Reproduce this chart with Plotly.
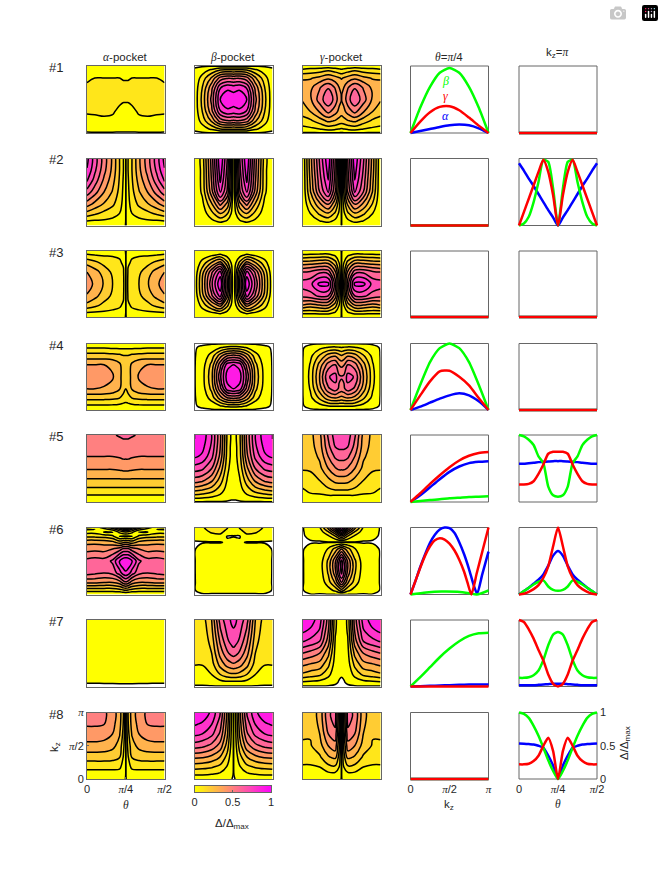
import math
import plotly.graph_objects as go

W, H = 664, 875

# panel frames in pixels
col_x = [(87, 164.5), (194.5, 272.5), (302.5, 380.5), (410.5, 488.5), (519, 597)]
row_y = [(66, 133), (158.5, 225.5), (251, 317), (343.5, 410), (435, 502), (527.5, 594.5), (620, 686.5), (712.5, 779)]

# contour grids: percent of gap, one line per theta position, values bottom to top in kz
U = [0, .1, .22, .33, .42, .47, .5]
V = [0, .06, .18, .32, .5, .68, .82, .94, 1]
V6 = [0, .06, .18, .32, .5, .68, .78, .87, .93, .97, 1]

a1 = [[-1,3,7,11,12,11,9,3,1],[-1,4,8,11,13,12,10,4,1],[-1,4,8,12,13,12,10,4,1],[-1,4,8,11,13,13,10,4,1],
      [-1,3,6,8,12,13,10,4,1],[-1,3,5,7,11,13,9,3,1],[-1,3,5,7,11,13,9,3,1]]
b1 = [[-1,1,2,3,3,3,2,1,-1],[-1,5,14,20,23,20,14,5,-1],[-1,12,32,47,53,47,32,12,-1],[-1,20,54,79,90,79,54,20,-1],
      [-1,22,59,87,99,87,59,22,-1],[-1,22,59,86,98,86,59,22,-1],[-1,21,58,85,97,85,58,21,-1]]
c1 = [[-1,7,15,25,31,34,29,12,3],[-1,8,18,30,38,37,29,14,3],[-1,10,25,41,55,49,33,15,3],[-1,14,32,53,68,59,38,18,4],
      [-1,12,29,44,56,49,34,15,3],[-1,10,26,37,44,40,31,13,3],[-1,9,25,34,40,37,29,12,3]]

a2 = [[.5,9,26,45,66,82,89,92,93],[.5,8,22,37,54,66,72,75,75],[.5,8,17,29,40,48,53,55,55],[.5,7,14,22,29,34,37,38,38],
      [.5,6,10,14,17,19,20,20,20],[.5,3,5,7,8,9,10,10,10],[-.1]*9]
b2 = [[.5]*9,[1,2,4,7,12,13,13,14,14],[1,7,17,29,46,51,53,54,55],[1,12,30,53,83,92,96,99,100],
      [1,8,21,37,58,64,67,69,70],[1,4,10,17,27,30,32,33,33],[.5]*9]
c2 = [[.5]*9,[.5,4,10,19,29,32,34,35,35],[1,9,22,38,60,66,69,71,72],[1,12,29,52,81,90,94,97,98],
      [1,7,18,32,50,55,58,59,60],[1,3,8,13,21,23,24,25,25],[-.1]*9]

a3 = [[.5,9,27,39,45,40,27,12,1],[.5,8,23,33,38,34,23,10,1],[.5,8,17,25,29,26,17,9,1],[.5,8,13,18,20,18,14,9,1],
      [.5,8,11,13,14,13,11,9,1],[.5,6,9,11,12,11,9,7,.5],[-.1]*9]
b3 = [[.5,1,1,2,3,2,1,1,.5],[.5,4,14,26,30,26,14,4,.5],[.5,8,31,58,68,58,31,8,.5],[.5,12,45,84,99,84,45,12,.5],
      [.5,6,23,43,50,43,23,6,.5],[.5,3,10,17,20,17,10,3,.5],[.5]*9]
c3 = [[.5,12,40,63,75,60,35,11,1],[.5,12,36,66,77,62,36,12,1],[.5,13,40,72,93,68,38,13,1],[.5,13,40,70,93,66,38,13,1],
      [.5,8,25,45,55,42,24,8,.5],[.5,4,10,18,22,17,10,4,.5],[-.1]*9]

a4 = [[.5,8,23,40,47,40,24,9,1],[.5,8,23,40,46,40,24,9,1],[.5,8,23,39,44,40,24,9,1],[.5,8,22,37,41,38,23,8,1],
      [.5,7,20,31,33,32,22,8,1],[.5,6,17,23,25,25,20,8,1],[.5,6,15,20,24,25,20,8,1]]
b4 = [[-.5]*9,[-1,1,3,5,6,5,3,1,-1],[-1,4,14,23,27,23,14,4,-1],[-1,9,35,57,68,57,35,9,-1],
      [-1,13,49,86,95,86,49,13,-1],[-1,14,51,89,99,89,51,14,-1],[-1,14,52,90,100,90,52,14,-1]]
c4 = [[-.5]*9,[-1,2,7,11,13,11,7,2,-1],[-1,6,22,35,41,34,21,7,-1],[-1,10,36,58,69,55,34,11,-1],
      [-1,11,40,66,74,60,38,12,-1],[-1,11,38,58,62,49,33,11,-1],[-1,11,36,56,61,47,30,10,-1]]

a5 = [[.5,6,17,28,41,50,55,57,57],[.5,6,17,28,41,50,55,57,57],[.5,6,17,28,41,50,55,57,58],[.5,6,17,28,41,50,55,58,59],
      [.5,6,17,28,42,51,56,59,61],[.5,6,17,28,43,52,57,60,62],[.5,6,17,28,43,52,57,60,62]]
b5 = [[-1,11,33,55,75,92,98,100,100],[-1,10,30,52,72,88,93,96,97],[-1,8,25,42,60,73,78,80,80],[-1,6,15,25,37,47,50,52,52],
      [-1,3,6,9,13,16,17,18,18],[-1,1,3,4,6,8,8,9,9],[-1,1,3,4,6,7,8,8,8]]
c5 = [[.5,5,9,14,21,24,25,26,26],[.5,7,12,17,21,24,26,27,27],[.5,6,14,20,27,32,35,36,37],[.5,6,18,27,40,50,57,60,62],
      [.5,5,20,33,49,62,70,74,75],[.5,5,20,34,52,64,72,75,76],[.5,5,20,34,52,64,72,75,76]]

a6 = [[.5,13,42,64,63,46,37,17,7,-.5,3],[.5,13,42,62,65,47,37,17,7,-.5,5],[.5,13,40,60,64,46,36,16,-.5,6,14],
      [.5,13,40,63,72,50,33,12,-.5,12,28],[.5,15,45,75,92,55,25,-.5,12,28,45],[.5,18,55,85,99,62,28,-.5,17,38,60],
      [.5,19,58,88,100,62,30,-.5,18,40,63]]
b6 = [[-.5,-.5,-.5,-.5,-.5,-.5,-.5,2,4,5,6],[-1,3,4,5,5,3,-.5,3,6,8,9],[-1,3,4,5,6,4,-.5,6,11,13,14],
      [-1,3,4,5,6,4,-.5,6,13,15,16],[-1,3,4,5,6,4,1,-.5,5,9,11],[-1,3,4,5,6,5,2,-.5,3,4,5],[-1,3,4,5,6,5,3,-.5,3,4,4]]
c6 = [[-.5]*11,[-.5,3,3,3,3,2,-.5,1,2,3,3],[-.5,2,3,4,4,3,-.5,2,4,6,9],[-.5,6,15,21,22,11,-.5,8,18,28,34],
      [-.5,12,32,46,48,24,-.5,20,38,55,66],[-.5,20,50,70,70,33,-.5,32,60,78,90],[-.5,25,60,82,84,40,-.5,38,70,88,100]]

a7 = [[-1,.2,2,3,3,4,4,4,4],[-1,.2,2,3,3,4,4,4,4],[-1,.3,2,3,3,4,4,4,4],[-1,.3,2,3,3,4,4,4,5],
      [-1,.4,2,3,3,4,4,5,5],[-1,.5,2,3,3,4,4,5,5],[-1,.5,2,3,3,4,4,5,5]]
b7 = [[-1,2,5,10,11,12,12,13,13],[-1,2,6,10,11,12,13,14,15],[-1,4,10,15,20,24,27,29,30],[-1,6,20,33,44,52,58,62,65],
      [-1,7,26,43,58,68,72,75,76],[-1,7,28,46,63,73,78,80,81],[-1,7,28,47,65,75,79,81,82]]
c7 = [[-1,8,28,41,60,81,91,98,100],[-1,7,25,38,56,77,87,93,95],[-1,6,22,35,50,70,78,83,85],[-1,4,13,22,33,45,50,54,55],
      [-1,1,3,5,7,9,11,12,12],[-1,-.5,1,2,3,4,5,5,5],[-1,-1,.5,1,2,2,2,2,2]]

a8 = [[.5,4,13,24,37,46,51,53,53],[.5,4,13,24,37,46,51,53,53],[.5,4,13,24,36,45,50,52,52],[.5,4,13,23,33,40,43,45,45],
      [.5,4,12,20,26,31,34,35,35],[.5,3,6,9,13,17,19,20,20],[-.1]*9]
b8 = [[.5,10,24,41,65,83,91,98,100],[.5,10,23,40,63,80,88,95,97],[.5,9,21,36,57,73,80,86,88],[.5,7,17,29,46,58,64,69,70],
      [.5,4,9,16,25,32,35,37,38],[.5,2,3,5,8,10,11,12,12],[-1,-.5,-.1,-.1,-.1,-.1,-.1,-.1,-.1]]
c8 = [[.5,4,9,13,19,21,22,22,22],[.5,4,9,13,19,21,23,24,24],[.5,4,10,18,26,30,32,33,33],[.5,6,17,28,40,50,55,58,58],
      [.5,6,18,32,46,56,62,64,64],[.5,4,10,16,22,27,30,32,32],[-.1]*9]

alpha_grids = [a1, a2, a3, a4, a5, a6, a7, a8]
beta_grids = [b1, b2, b3, b4, b5, b6, b7, b8]
gamma_grids = [c1, c2, c3, c4, c5, c6, c7, c8]

# line panels, theta = pi/4 against kz (fraction of pi)
KZ = [0, .125, .25, .375, .5, .625, .75, .875, 1]
zero_kz = [0] * 9
blue1 = [0, .03, .06, .09, .115, .125, .115, .07, 0]
green1 = [0, .38, .69, .9, .97, .9, .69, .38, 0]
red1 = [0, .17, .31, .39, .4, .34, .23, .11, 0]
blue4 = [0, .05, .11, .17, .22, .25, .22, .13, 0]
green4 = [0, .38, .72, .93, 1, .93, .72, .38, 0]
red4 = [0, .22, .43, .58, .59, .5, .37, .18, 0]
blue5 = [0, .1, .22, .34, .45, .53, .58, .6, .61]
green5 = [0, .015, .03, .04, .055, .065, .075, .08, .085]
red5 = [0, .13, .27, .4, .52, .62, .69, .73, .745]
blue7 = [0, .005, .01, .015, .02, .025, .03, .03, .03]
green7 = [0, .14, .29, .44, .57, .68, .76, .8, .81]
red7 = zero_kz
blue6_x = [0, .0625, .125, .1875, .25, .3125, .375, .4375, .5, .5625, .625, .6875, .75, .81, .855, .92, 1]
blue6 = [0, .2, .41, .6, .77, .89, .97, 1, .99, .92, .78, .6, .38, .14, .01, .3, .64]
red6_x = [0, .0625, .125, .1875, .25, .3125, .375, .4375, .5, .5625, .625, .6875, .73, .78, .85, .925, 1]
red6 = [0, .2, .4, .58, .72, .81, .84, .82, .76, .66, .52, .34, .18, 0, .32, .66, 1]
green6_x = [0, .2, .4, .6, .75, .85, 1]
green6 = [0, .03, .045, .04, .02, 0, .06]

# line panels, kz = pi against theta, half of the range up to pi/4 (the curves mirror there)
TH = [0, .0625, .125, .1875, .25, .3125, .375, .4375, .5]
zero_th = [0] * 9
tblue2 = [.93, .82, .7, .59, .47, .35, .23, .12, 0]
tgreen2 = [0, .03, .13, .35, .65, .98, .95, .55, 0]
tred2 = [0, .2, .4, .6, .8, .98, .8, .45, 0]
tblue5 = [.57, .57, .58, .585, .595, .6, .605, .61, .61]
tgreen5 = [1, .98, .93, .85, .68, .58, .23, .1, .08]
tred5 = [.26, .26, .27, .31, .42, .56, .72, .75, .75]
tblue6 = [0, .05, .1, .16, .22, .3, .43, .58, .65]
tgreen6 = [0, .05, .1, .15, .19, .21, .12, .07, .055]
tred6 = [0, .01, .04, .08, .14, .25, .42, .72, 1]
tblue7 = [.02, .02, .02, .02, .025, .03, .035, .04, .04]
tgreen7 = [.13, .13, .14, .17, .24, .4, .62, .78, .82]
tred7 = [1, .97, .86, .72, .55, .39, .18, .04, 0]
tblue8 = [.535, .53, .525, .52, .5, .47, .35, .2, 0]
tgreen8 = [1, .98, .92, .8, .65, .47, .28, .12, 0]
tred8 = [.22, .22, .23, .27, .35, .5, .62, .42, 0]

kz_lines = [(KZ, blue1, KZ, green1, KZ, red1), (KZ, zero_kz, KZ, zero_kz, KZ, zero_kz), (KZ, zero_kz, KZ, zero_kz, KZ, zero_kz),
            (KZ, blue4, KZ, green4, KZ, red4), (KZ, blue5, KZ, green5, KZ, red5),
            (blue6_x, blue6, green6_x, green6, red6_x, red6), (KZ, blue7, KZ, green7, KZ, red7),
            (KZ, zero_kz, KZ, zero_kz, KZ, zero_kz)]
theta_lines = [(zero_th, zero_th, zero_th), (tblue2, tgreen2, tred2), (zero_th, zero_th, zero_th), (zero_th, zero_th, zero_th),
               (tblue5, tgreen5, tred5), (tblue6, tgreen6, tred6), (tblue7, tgreen7, tred7), (tblue8, tgreen8, tred8)]

bar_values = [0, .1, .2, .3, .4, .5, .6, .7, .8, .9, 1]
row_names = ['#1', '#2', '#3', '#4', '#5', '#6', '#7', '#8']

TEXT = '#262626'
FRAME = '#666666'
FONT = 'Liberation Sans'
# band below 0 white, then yellow to magenta, band colour taken from its lower level
band_scale = [[0, '#ffffff'], [.045, '#ffffff'], [1 / 11, '#ffff00'], [1, '#ff00ff']]
pi = math.pi


def greek(ch):
    return f'<span style="font-family:Liberation Serif"><i>{ch}</i></span>'


PI = greek('π')
theta_ticks = dict(tickvals=[0, pi / 4, pi / 2], ticktext=['0', PI + '/4', PI + '/2'])
kz_ticks = dict(tickvals=[0, pi / 2, pi], ticktext=['0', PI + '/2', PI])

fig = go.Figure()
layout = {}
shapes = []
n = 0


def px(x):
    return x / W


def py(y):
    return 1 - y / H


def new_axes(x0, x1, y0, y1, xrange, yrange, xextra=None, yextra=None, line=True):
    global n
    n += 1
    base = dict(showgrid=False, zeroline=False, fixedrange=True, showticklabels=False, ticks='', automargin=False,
                showline=line, mirror=line, linecolor=FRAME, linewidth=1,
                tickfont=dict(family=FONT, size=11, color=TEXT))
    xa = dict(base, domain=[px(x0), px(x1)], range=xrange, anchor=f'y{n}')
    ya = dict(base, domain=[py(y1), py(y0)], range=yrange, anchor=f'x{n}')
    xa.update(xextra or {})
    ya.update(yextra or {})
    layout[f'xaxis{n}'] = xa
    layout[f'yaxis{n}'] = ya
    return f'x{n}', f'y{n}'


def mirror_cols(grid):
    cols = grid + grid[-2::-1]
    return [[cols[j][i] / 100 for j in range(len(cols))] for i in range(len(cols[0]))]


theta_u = U + [1 - u for u in U[-2::-1]]
for r in range(8):
    last = r == 7
    vals = V6 if r == 5 else V
    for c, grid in enumerate([alpha_grids[r], beta_grids[r], gamma_grids[r]]):
        xextra, yextra = None, None
        if last and c == 0:
            xextra = dict(showticklabels=True, ticks='inside', ticklen=2, tickcolor=FRAME, **theta_ticks)
            yextra = dict(showticklabels=True, ticks='inside', ticklen=2, tickcolor=FRAME, **kz_ticks)
        xa, ya = new_axes(col_x[c][0], col_x[c][1], row_y[r][0], row_y[r][1], [0, pi / 2], [0, pi], xextra, yextra)
        fig.add_trace(go.Contour(x=[u * pi / 2 for u in theta_u], y=[v * pi for v in vals], z=mirror_cols(grid),
                                 xaxis=xa, yaxis=ya, showscale=False, hoverinfo='skip', autocontour=False,
                                 contours=dict(start=0, end=1, size=.1, coloring='fill', showlines=True),
                                 line=dict(color='black', width=1.5, smoothing=1.1), colorscale=band_scale))

    # line panels are padded a little so the thick lines are not cut at the frame
    pad = 2
    for c in (3, 4):
        x0, x1 = col_x[c]
        y0, y1 = row_y[r]
        xspan, yspan = x1 - x0, y1 - y0
        xextra, yextra = None, None
        if last and c == 3:
            xextra = dict(showticklabels=True, **kz_ticks)
        if last and c == 4:
            xextra = dict(showticklabels=True, **theta_ticks)
            yextra = dict(showticklabels=True, side='right', tickvals=[0, .5, 1], ticktext=['0', '0.5', '1'])
        xmax = pi if c == 3 else pi / 2
        xa, ya = new_axes(x0 - pad, x1 + pad, y0 - pad, y1 + pad,
                          [-pad / xspan * xmax, (1 + pad / xspan) * xmax], [-pad / yspan, 1 + pad / yspan],
                          xextra, yextra, line=False)
        shapes.append(dict(type='rect', xref='paper', yref='paper', x0=px(x0), x1=px(x1), y0=py(y1), y1=py(y0),
                           line=dict(color=FRAME, width=1), layer='below'))
        if c == 3:
            bx, by, gx, gy, rx, ry = kz_lines[r]
            curves = [([v * pi for v in bx], by, '#0000ff'), ([v * pi for v in gx], gy, '#00ff00'), ([v * pi for v in rx], ry, '#ff0000')]
        else:
            tb, tg, tr = theta_lines[r]
            xs = [t * pi / 2 for t in TH + [1 - t for t in TH[-2::-1]]]
            curves = [(xs, tb + tb[-2::-1], '#0000ff'), (xs, tg + tg[-2::-1], '#00ff00'), (xs, tr + tr[-2::-1], '#ff0000')]
        for cx, cy, colour in curves:
            fig.add_trace(go.Scatter(x=cx, y=cy, mode='lines', xaxis=xa, yaxis=ya, hoverinfo='skip', showlegend=False,
                                     line=dict(color=colour, width=2.5, shape='spline', smoothing=.6)))

# colour bar under the beta column
xa, ya = new_axes(194.5, 271, 786, 792, [0, 1], [0, 1],
                  dict(showticklabels=True, tickvals=[0, .5, 1], ticktext=['0', '0.5', '1'], ticks='inside', ticklen=2, tickcolor=FRAME))
fig.add_trace(go.Heatmap(x=bar_values, y=[0, 1], z=[bar_values, bar_values], xaxis=xa, yaxis=ya, zmin=0, zmax=1, zsmooth='best',
                         colorscale=[[0, '#ffff00'], [1, '#ff00ff']], showscale=False, hoverinfo='skip'))

notes = []


def note(text, x, y, size=11.5, colour=TEXT, angle=0, anchor='center'):
    notes.append(dict(text=text, x=px(x), y=py(y), xref='paper', yref='paper', showarrow=False, textangle=angle,
                      xanchor=anchor, yanchor='middle', font=dict(family=FONT, size=size, color=colour)))


note(greek('α') + '-pocket', 125, 57)
note(greek('β') + '-pocket', 233, 57)
note(greek('γ') + '-pocket', 341.5, 57)
note(greek('θ') + '=' + PI + '/4', 449, 57)
note('k<sub>z</sub>=' + PI, 558, 53)
for r, name in enumerate(row_names):
    note(name, 47, row_y[r][0] + 1.5, size=13, anchor='left')
note(greek('β'), 445, 81, size=12, colour='#00ff00')
note(greek('γ'), 445, 96, size=12, colour='#ff0000')
note(greek('α'), 445, 116, size=12, colour='#0000ff')
note(greek('θ'), 126, 805)
note('k<sub>z</sub>', 449, 805)
note(greek('θ'), 558, 804)
note('k<sub>z</sub>', 55, 747, angle=-90)
note('Δ/Δ<sub>max</sub>', 232, 824)
note('Δ/Δ<sub>max</sub>', 625, 743, angle=-90)

fig.update_layout(width=W, height=H, autosize=False, margin=dict(l=0, r=0, t=0, b=0), paper_bgcolor='white',
                  plot_bgcolor='white', showlegend=False, shapes=shapes, annotations=notes, **layout)

fig.write_html("out.html", post_script="document.body.style.margin='0';")
